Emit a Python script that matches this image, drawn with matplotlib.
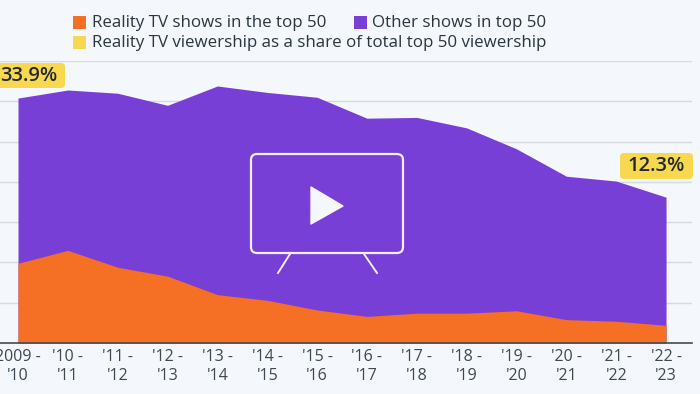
import matplotlib.pyplot as plt
import numpy as np
from matplotlib.patches import FancyBboxPatch, Polygon, Rectangle

seasons = ['2009 -\n\'10', '\'10 -\n\'11', '\'11 -\n\'12', '\'12 -\n\'13', '\'13 -\n\'14', '\'14 -\n\'15', '\'15 -\n\'16',
           '\'16 -\n\'17', '\'17 -\n\'18', '\'18 -\n\'19', '\'19 -\n\'20', '\'20 -\n\'21', '\'21 -\n\'22', '\'22 -\n\'23']
reality_shows = [9.9, 11.5, 9.4, 8.3, 6.0, 5.3, 4.1, 3.3, 3.7, 3.7, 4.0, 2.9, 2.7, 2.2]
all_shows = [30.4, 31.4, 31.0, 29.5, 31.9, 31.1, 30.5, 27.9, 28.0, 26.7, 24.1, 20.7, 20.1, 18.1]
y_ticks = [0, 5, 10, 15, 20, 25, 30, 35]

BG = '#f4f7fb'
ORANGE = '#f56f24'
PURPLE = '#773fd6'
YELLOW = '#f8d84f'
TEXT = '#2a3540'

plt.rcParams['font.family'] = ['Open Sans', 'DejaVu Sans']

fig = plt.figure(figsize=(7, 3.94), dpi=100, facecolor=BG)
ax = fig.add_axes([0, (394 - 343) / 394, 692 / 700, (343 - 61) / 394], facecolor=BG)

x = np.arange(len(seasons))
ax.fill_between(x, 0, all_shows, color=PURPLE, lw=0, zorder=2)
ax.fill_between(x, 0, reality_shows, color=ORANGE, lw=0, zorder=3)

ax.set_xlim(-18 / 49.85, (692 - 18) / 49.85)
ax.set_ylim(0, 35)
ax.set_yticks(y_ticks)
ax.set_yticklabels([])
ax.set_xticks(x)
ax.set_xticklabels(seasons, fontsize=11.5, color='#3d4852', linespacing=1.2)
ax.tick_params(axis='y', length=0)
ax.tick_params(axis='x', length=0, pad=4.5)
ax.grid(axis='y', color='#d5dbe1', lw=1, zorder=1)
for name in ['top', 'left', 'right']:
    ax.spines[name].set_visible(False)
ax.spines['bottom'].set_color('#444b52')
ax.spines['bottom'].set_linewidth(1.2)
ax.spines['bottom'].set_zorder(5)

# overlay in pixel coordinates for legend, badges and tv icon
over = fig.add_axes([0, 0, 1, 1], facecolor='none')
over.set_xlim(0, 700)
over.set_ylim(394, 0)
over.axis('off')

over.add_patch(Rectangle((73, 16), 13, 13, color=ORANGE, lw=0))
over.add_patch(Rectangle((354, 16), 13, 13, color=PURPLE, lw=0))
over.add_patch(Rectangle((73, 36), 13, 13, color=YELLOW, lw=0))
over.text(92, 23, 'Reality TV shows in the top 50', fontsize=12.15, color=TEXT, va='center')
over.text(372, 23, 'Other shows in top 50', fontsize=12.15, color=TEXT, va='center')
over.text(92, 43, 'Reality TV viewership as a share of total top 50 viewership', fontsize=12.15, color=TEXT, va='center')

over.add_patch(FancyBboxPatch((-8, 63), 73, 25, boxstyle='round,pad=0,rounding_size=4', fc=YELLOW, ec='none'))
over.text(29, 76, '33.9%', fontsize=14.5, color='#222a30', ha='center', va='center', weight=600)
over.add_patch(FancyBboxPatch((620, 153), 73, 26, boxstyle='round,pad=0,rounding_size=4', fc=YELLOW, ec='none'))
over.text(656, 166, '12.3%', fontsize=14.5, color='#222a30', ha='center', va='center', weight=600)

icon = '#f6eefc'
over.add_patch(FancyBboxPatch((251, 154), 152, 99, boxstyle='round,pad=0,rounding_size=6', fc='none', ec=icon, lw=1.6, zorder=6))
over.plot([290, 278], [254, 273], color=icon, lw=1.4, zorder=6)
over.plot([364, 377], [254, 273], color=icon, lw=1.4, zorder=6)
over.add_patch(Polygon([(311, 187), (311, 224), (343, 206)], closed=True, fc=BG, ec=BG, lw=1, joinstyle='round', zorder=6))

fig.savefig('out.png', dpi=100, facecolor=BG)
